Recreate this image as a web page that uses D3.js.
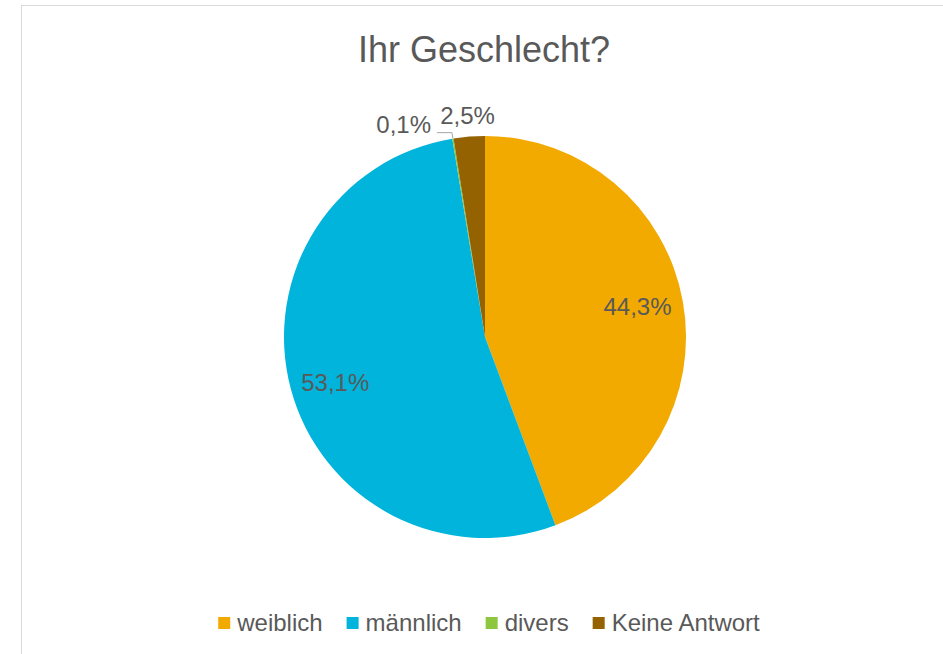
<!DOCTYPE html>
<html>
<head>
<meta charset="utf-8">
<script src="https://cdn.jsdelivr.net/npm/d3@7"></script>
<style>
  body { margin: 0; background: #fff; }
  text { font-family: "Liberation Sans", Arial, sans-serif; }
</style>
</head>
<body>
<div id="chart"></div>
<script>
// data
var title = "Ihr Geschlecht?";
var categories = ["weiblich", "männlich", "divers", "Keine Antwort"];
var values = [44.3, 53.1, 0.1, 2.5];
var colors = ["#F2A900", "#00B4DC", "#8DC63F", "#946200"];

var width = 943, height = 654;
var cx = 485, cy = 337, radius = 201;
var textColor = "#595959";

var fmt = function(v){ return v.toFixed(1).replace(".", ",") + "%"; };

var svg = d3.select("#chart")
  .append("svg")
    .attr("width", width)
    .attr("height", height);

// chart area border (runs off the right and bottom edge)
svg.append("rect")
    .attr("x", 21.5)
    .attr("y", 5.5)
    .attr("width", width + 20)
    .attr("height", height + 20)
    .attr("fill", "#fff")
    .attr("stroke", "#D9D9D9")
    .attr("stroke-width", 1);

// title
svg.append("text")
    .attr("x", 484)
    .attr("y", 62)
    .attr("text-anchor", "middle")
    .style("font-size", "36px")
    .style("fill", textColor)
    .text(title);

var data = categories.map(function(c, i){ return {key: c, value: values[i], color: colors[i]}; });

var pie = d3.pie()
    .sort(null)
    .value(function(d){ return d.value; });

var arcs = pie(data);

var arc = d3.arc().innerRadius(0).outerRadius(radius);
var inLabelArc = d3.arc().innerRadius(155).outerRadius(155);
var outLabelArc = d3.arc().innerRadius(222).outerRadius(222);
var edgeArc = d3.arc().innerRadius(radius).outerRadius(radius);
var elbowArc = d3.arc().innerRadius(radius + 6).outerRadius(radius + 6);

var g = svg.append("g")
    .attr("transform", "translate(" + cx + "," + cy + ")");

g.selectAll("path.slice")
  .data(arcs)
  .enter()
  .append("path")
    .attr("class", "slice")
    .attr("d", arc)
    .attr("fill", function(d){ return d.data.color; });

// labels inside the big slices
g.selectAll("text.inlabel")
  .data(arcs.filter(function(d){ return d.data.value >= 5; }))
  .enter()
  .append("text")
    .attr("class", "inlabel")
    .attr("transform", function(d){ return "translate(" + inLabelArc.centroid(d) + ")"; })
    .attr("text-anchor", "middle")
    .attr("dy", function(d, i){ return i === 1 ? "0.6em" : "0.25em"; })
    .style("font-size", "24px")
    .style("fill", textColor)
    .text(function(d){ return fmt(d.data.value); });

// "Keine Antwort" label sits just outside
var keine = arcs[3];
g.append("text")
    .attr("transform", "translate(" + outLabelArc.centroid(keine) + ")")
    .attr("text-anchor", "middle")
    .attr("dy", "0.35em")
    .style("font-size", "24px")
    .style("fill", textColor)
    .text(fmt(keine.data.value));

// "divers" label pushed left with a leader line
var divers = arcs[2];
var p0 = edgeArc.centroid(divers);
var p1 = elbowArc.centroid(divers);
var p2 = [p1[0] - 15, p1[1]];
g.append("polyline")
    .attr("points", [p0, p1, p2].map(function(p){ return p.join(","); }).join(" "))
    .attr("fill", "none")
    .attr("stroke", "#A6A6A6")
    .attr("stroke-width", 1);
g.append("text")
    .attr("x", p2[0] - 6)
    .attr("y", p2[1] - 8)
    .attr("text-anchor", "end")
    .attr("dy", "0.35em")
    .style("font-size", "24px")
    .style("fill", textColor)
    .text(fmt(divers.data.value));

// legend
var legend = svg.append("g");
var items = legend.selectAll("g.item")
  .data(data)
  .enter()
  .append("g")
    .attr("class", "item");

items.append("rect")
    .attr("width", 12)
    .attr("height", 12)
    .attr("y", 617)
    .attr("fill", function(d){ return d.color; });

items.append("text")
    .attr("x", 19)
    .attr("y", 631)
    .style("font-size", "24px")
    .style("fill", textColor)
    .text(function(d){ return d.key; });

var gap = 24;
var xPos = 0;
items.each(function(){
  var w = d3.select(this).select("text").node().getComputedTextLength();
  d3.select(this).attr("transform", "translate(" + xPos + ",0)");
  xPos += 19 + w + gap;
});
var legendWidth = xPos - gap;
legend.attr("transform", "translate(" + (489 - legendWidth / 2) + ",0)");
</script>
</body>
</html>
